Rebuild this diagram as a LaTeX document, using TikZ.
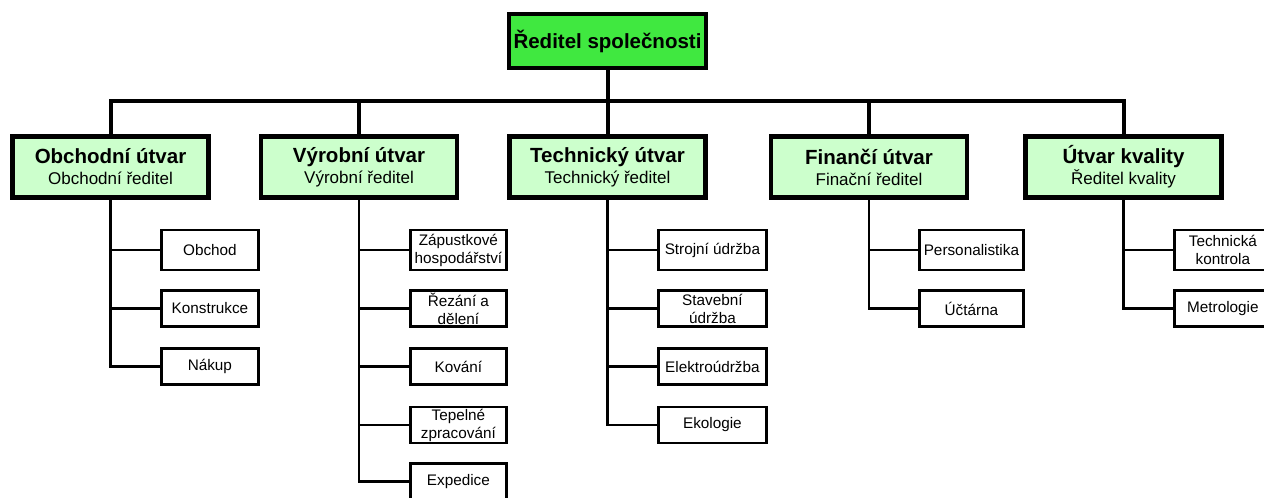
\documentclass[tikz,border=0pt]{standalone}
\usepackage{fontspec}
\setmainfont{Liberation Sans}
\usepackage{tikz}
\usetikzlibrary{positioning}

\definecolor{ceogreen}{RGB}{64,232,64}
\definecolor{deptgreen}{RGB}{204,255,204}

\newcommand{\utvar}[2]{{\fontsize{20.5}{21}\selectfont\bfseries #1}\\#2}

\tikzset{
  topbox/.style={draw, line width=4pt, fill=ceogreen, minimum width=197pt, minimum height=54pt, inner sep=0pt, font=\fontsize{20.5}{24}\selectfont\bfseries},
  deptbox/.style={draw, line width=4.5pt, fill=deptgreen, minimum width=196pt, minimum height=61pt, inner sep=0pt, align=center, font=\fontsize{17}{21}\selectfont},
  subbox/.style={draw, line width=2.8pt, fill=white, minimum height=36pt, inner sep=0pt, align=center, anchor=west, font=\fontsize{15.3}{18}\selectfont},
  firstrow/.style={minimum height=40pt},
  busline/.style={line width=4pt},
  subline/.style={line width=2.8pt},
}

\begin{document}
\begin{tikzpicture}[x=1pt,y=1pt,yscale=-1,xscale=1]
\useasboundingbox (0,0) rectangle (1264,498);

%Shape: top box
\node [topbox] (ceo) at (607.5,41) {Ředitel společnosti};

%Shape: department boxes
\node [deptbox] (obch) at (110.5,167) {\utvar{Obchodní útvar}{Obchodní ředitel}};
\node [deptbox] (vyr) at (359,167) {\utvar{Výrobní útvar}{Výrobní ředitel}};
\node [deptbox] (tech) at (607.5,167) {\utvar{Technický útvar}{Technický ředitel}};
\node [deptbox] (fin) at (869,167) {\utvar{Finančí útvar}{Finační ředitel}};
\node [deptbox] (kval) at (1123.5,167) {\utvar{Útvar kvality}{Ředitel kvality}};

% Text Node: Obchodni
\node [subbox, firstrow, minimum width=97pt] (obch1) at (160,250) {Obchod};
\node [subbox, minimum width=97pt] (obch2) at (160,308.5) {Konstrukce};
\node [subbox, minimum width=97pt] (obch3) at (160,366.5) {Nákup};

% Text Node: Vyrobni
\node [subbox, firstrow, minimum width=96pt] (vyr1) at (409,250) {Zápustkové\\hospodářství};
\node [subbox, minimum width=96pt] (vyr2) at (409,308.5) {Řezání a\\dělení};
\node [subbox, minimum width=96pt] (vyr3) at (409,366.5) {Kování};
\node [subbox, minimum width=96pt] (vyr4) at (409,425) {Tepelné\\zpracování};
\node [subbox, minimum width=96pt] (vyr5) at (409,481.5) {Expedice};

% Text Node: Technicky
\node [subbox, firstrow, minimum width=108pt] (tech1) at (657,250) {Strojní údržba};
\node [subbox, minimum width=108pt] (tech2) at (657,308.5) {Stavební\\údržba};
\node [subbox, minimum width=108pt] (tech3) at (657,366.5) {Elektroúdržba};
\node [subbox, minimum width=108pt] (tech4) at (657,425) {Ekologie};

% Text Node: Financni
\node [subbox, firstrow, minimum width=104pt] (fin1) at (918,250) {Personalistika};
\node [subbox, minimum width=104pt] (fin2) at (918,308.5) {Účtárna};

% Text Node: Kvalita
\node [subbox, firstrow, minimum width=97pt] (kval1) at (1173,250) {Technická\\kontrola};
\node [subbox, minimum width=97pt] (kval2) at (1173,308.5) {Metrologie};

%Shape: bus
\coordinate (bus) at (607.5,101);
\draw [busline] (ceo.south) -- (bus);
\draw [busline] (obch.north) |- (bus) -| (kval.north);
\draw [busline] (vyr.north) -- (vyr.north |- bus);
\draw [busline] (tech.north) -- (bus);
\draw [busline] (fin.north) -- (fin.north |- bus);

%Shape: branches
\draw [subline] (obch.south) |- (obch1.west);
\draw [subline] (obch.south) |- (obch2.west);
\draw [subline] (obch.south) |- (obch3.west);
\draw [subline] (vyr.south) |- (vyr1.west);
\draw [subline] (vyr.south) |- (vyr2.west);
\draw [subline] (vyr.south) |- (vyr3.west);
\draw [subline] (vyr.south) |- (vyr4.west);
\draw [subline] (vyr.south) |- (vyr5.west);
\draw [subline] (tech.south) |- (tech1.west);
\draw [subline] (tech.south) |- (tech2.west);
\draw [subline] (tech.south) |- (tech3.west);
\draw [subline] (tech.south) |- (tech4.west);
\draw [subline] (fin.south) |- (fin1.west);
\draw [subline] (fin.south) |- (fin2.west);
\draw [subline] (kval.south) |- (kval1.west);
\draw [subline] (kval.south) |- (kval2.west);

\end{tikzpicture}
\end{document}
